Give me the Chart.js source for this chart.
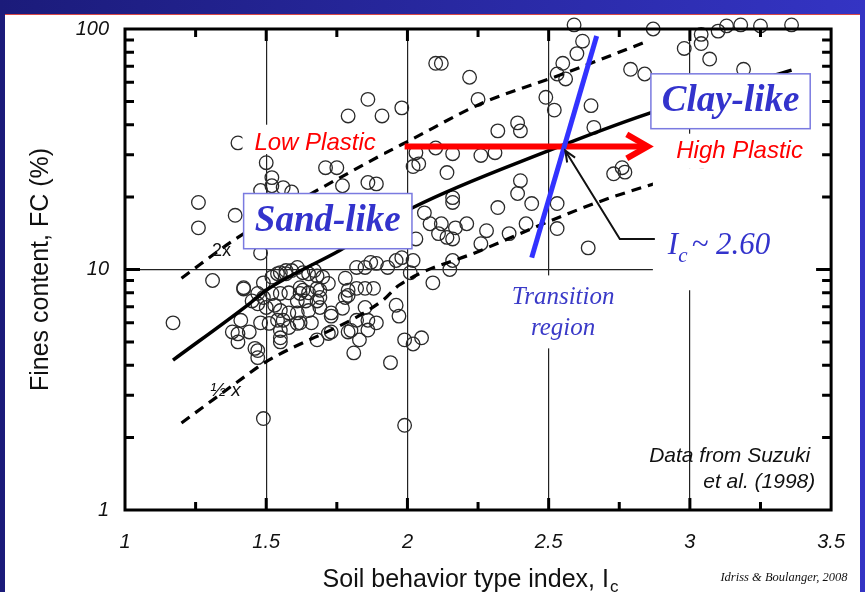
<!DOCTYPE html>
<html lang="en">
<head>
<meta charset="UTF-8">
<title>Fines content vs Ic</title>
<script src="https://cdn.jsdelivr.net/npm/chart.js"></script>
<style>
    html, body { margin: 0; padding: 0; }
    body {
        width: 865px; height: 592px; overflow: hidden; position: relative;
        background: linear-gradient(to right, #1b1b7a, #3434c4);
        font-family: Arial, sans-serif;
    }
    #panel {
        position: absolute; left: 5px; top: 14px; width: 855px; height: 578px;
        background: #fff; border-top: 1px solid #d84848;
    }
    #wrap { position: absolute; left: 0; top: 0; width: 865px; height: 592px; }
</style>
</head>
<body>
<div id="panel"></div>
<div id="wrap"><canvas id="fcChart" width="865" height="592"></canvas></div>
<script>
// Suzuki et al. (1998) data points: soil behaviour type index Ic vs fines content FC (%)
const pointIc = [
    2.59, 2.87, 3.04, 3.10, 3.13, 3.18, 3.25, 3.36, 3.04, 2.98, 3.07, 3.19, 2.62, 2.60, 2.55, 2.53,
    2.56, 2.79, 2.84, 2.49, 2.52, 2.65, 2.66, 2.73, 2.76, 2.77, 2.64,
    2.10, 2.12, 2.22, 2.25, 1.98, 2.32, 2.39, 2.40, 2.03, 2.04, 2.02, 2.10, 2.16, 2.26, 2.31, 2.14,
    2.40, 2.39, 2.44, 2.16, 2.16, 2.32, 2.53, 2.06, 2.08, 2.12, 2.17, 2.21, 2.11, 2.14, 2.16, 2.03,
    2.28, 2.36, 2.42, 2.53, 2.26, 2.16, 2.02, 2.01, 2.15, 2.09, 1.98,
    1.86, 1.91, 1.79, 1.40, 1.50, 1.71, 1.75, 1.52, 1.52, 1.56, 1.77, 1.86, 1.89, 1.48, 1.59, 1.26,
    1.26, 1.39, 1.48, 1.31, 1.42,
    1.17, 1.38, 1.40, 1.40, 1.44, 1.47, 1.47, 1.49, 1.55, 1.55, 1.68, 1.73, 1.73, 1.79, 1.83, 1.81,
    1.86, 1.89, 1.86, 1.82, 1.94, 1.96, 1.97, 1.99, 2.02, 2.05, 1.99,
    1.49, 1.52, 1.54, 1.57, 1.59, 1.61, 1.65, 1.68, 1.70, 1.72, 1.69, 1.65, 1.62, 1.58, 1.55, 1.52,
    1.49, 1.47, 1.42, 1.45, 1.50, 1.53, 1.55, 1.58, 1.61, 1.65, 1.69, 1.68, 1.48, 1.51, 1.55, 1.58,
    1.62, 1.66, 1.72, 1.73, 1.78, 1.79, 1.79, 1.82, 1.85, 1.88, 1.82, 1.85, 1.89, 1.93, 1.85, 1.80,
    1.46, 1.63, 1.67, 1.62, 1.63, 1.68, 1.69, 1.61, 1.64, 1.87, 1.96, 1.78, 1.77, 1.47, 1.54, 1.61,
    1.41, 1.56, 1.55, 1.57
];
const pointFc = [
    104, 100, 95, 98, 103, 104, 103, 104, 87, 83, 75, 68, 89, 79, 72, 65,
    62, 68, 65, 52, 46, 48, 39, 25, 26.5, 25.4, 12.3,
    72, 72, 63, 51, 47, 37.7, 40.7, 37.7, 30.6, 27.5, 26.8, 32, 30.3, 29.8, 30.6, 25.3,
    23.4, 20.7, 18.8, 19.9, 19, 18.1, 18.8, 17.2, 15.5, 15.5, 14.9, 15.5, 14.1, 13.6, 13.4, 13.4,
    14.5, 14.1, 15.5, 14.8, 12.8, 10.9, 10.9, 9.7, 10, 8.8, 11.2,
    51, 43.5, 43.5, 33.6, 27.8, 26.5, 26.5, 24.1, 22.3, 21.9, 22.3, 23, 22.7, 21.3, 21, 19,
    14.9, 16.8, 11.7, 9.0, 8.3,
    6.0, 5.5, 5.4, 5.0, 5.5, 4.6, 4.3, 2.4, 5.2, 5.0, 5.1, 5.5, 6.4, 5.5, 5.1, 4.5,
    5.6, 6.0, 6.15, 6.15, 4.1, 7.1, 6.4, 5.1, 4.9, 5.2, 2.25,
    8.8, 9.3, 9.6, 9.6, 9.9, 10.2, 9.6, 9.4, 9.3, 8.75, 8.2, 8.0, 7.95, 8.0, 7.95, 7.95,
    7.65, 7.95, 8.4, 7.4, 6.95, 7.1, 6.75, 6.6, 6.6, 6.75, 6.95, 7.4, 6.0, 5.97, 5.58, 5.74,
    6.0, 6.0, 5.42, 6.6, 9.2, 8.2, 7.8, 8.35, 8.35, 8.35, 10.2, 10.2, 10.6, 10.2, 6.95, 5.58,
    4.7, 9.7, 9.9, 8.4, 8.2, 8.35, 7.65, 7.4, 7.4, 10.7, 10.9, 7.65, 6.9, 7.2, 6.15, 5.97,
    6.15, 6.15, 9.7, 9.9
];

// Best-fit curve and the 2x / 0.5x bounds
const meanIc = [1.17, 1.44, 1.50, 1.76, 2.02, 2.50, 2.85, 3.36];
const meanFc = [4.2, 7.2, 8.2, 12.0, 18.1, 31.2, 44.4, 67.5];
const upperIc = [1.20, 1.40, 1.87, 2.02, 2.26, 2.55, 2.85];
const upperFc = [9.2, 13.6, 28.3, 35, 48.9, 65, 89];
const lowerIc = [1.20, 1.42, 1.49, 1.91, 1.97, 2.26, 2.57, 2.72, 3.05];
const lowerFc = [2.3, 3.56, 4.07, 7.4, 8.6, 12, 17.1, 19.9, 26.2];

// Ic ~ 2.60 boundary line and the plasticity arrow
const boundIc = [2.44, 2.67];
const boundFc = [11.2, 93.5];
const arrowIc = [1.99, 2.84];
const arrowFc = [32.5, 32.5];

const xTicks = [1, 1.5, 2, 2.5, 3, 3.5];
const yTicks = [1, 10, 100];

const pts = (xs, ys) => xs.map((v, i) => ({ x: v, y: ys[i] }));

const serif = '"Liberation Serif", "Times New Roman", serif';
const sans = 'Arial, "Liberation Sans", sans-serif';

const annot = {
    id: 'annot',
    afterDatasetsDraw(chart) {
        const { ctx, chartArea: a, scales: { x, y } } = chart;
        const P = (ix, fc) => [x.getPixelForValue(ix), y.getPixelForValue(fc)];

        function box(x0, y0, x1, y1, stroke) {
            const [l, t] = P(x0, y0);
            const [r, b] = P(x1, y1);
            ctx.fillStyle = '#fff';
            ctx.fillRect(l, t, r - l, b - t);
            if (stroke) {
                ctx.strokeStyle = stroke;
                ctx.lineWidth = 1.5;
                ctx.strokeRect(l, t, r - l, b - t);
            }
        }
        function text(str, ix, fc, font, color, align) {
            const [px, py] = P(ix, fc);
            ctx.font = font;
            ctx.fillStyle = color;
            ctx.textAlign = align || 'center';
            ctx.textBaseline = 'middle';
            ctx.fillText(str, px, py);
        }

        ctx.save();
        // white label backgrounds
        box(1.416, 40.0, 1.917, 30.2);
        box(2.929, 36.7, 3.5, 26.2);
        box(2.340, 9.45, 2.763, 4.70);
        box(2.869, 26.2, 3.5, 8.2);
        box(1.420, 20.7, 2.016, 12.2, '#7a7ae0');
        box(2.862, 65.1, 3.426, 38.5, '#7a7ae0');

        // red arrow head
        const [tx, ty] = P(2.858, 32.5);
        ctx.strokeStyle = '#ff0000';
        ctx.lineWidth = 6;
        ctx.lineJoin = 'miter';
        ctx.beginPath();
        ctx.moveTo(tx - 23, ty - 12);
        ctx.lineTo(tx - 2, ty);
        ctx.lineTo(tx - 23, ty + 12);
        ctx.stroke();

        // leader line to Ic ~ 2.60
        const l0 = P(2.876, 13.4), l1 = P(2.752, 13.4), l2 = P(2.559, 31.2);
        ctx.strokeStyle = '#111';
        ctx.lineWidth = 2;
        ctx.beginPath();
        ctx.moveTo(l0[0], l0[1]);
        ctx.lineTo(l1[0], l1[1]);
        ctx.lineTo(l2[0], l2[1]);
        ctx.stroke();
        const ang = Math.atan2(l2[1] - l1[1], l2[0] - l1[0]);
        ctx.beginPath();
        ctx.moveTo(l2[0] - 12 * Math.cos(ang - 0.4), l2[1] - 12 * Math.sin(ang - 0.4));
        ctx.lineTo(l2[0], l2[1]);
        ctx.lineTo(l2[0] - 12 * Math.cos(ang + 0.4), l2[1] - 12 * Math.sin(ang + 0.4));
        ctx.stroke();

        // texts
        text('Low Plastic', 1.673, 33.6, 'italic 24px ' + sans, '#ff0000');
        text('High Plastic', 3.176, 30.9, 'italic 24px ' + sans, '#ff0000');
        text('Sand-like', 1.718, 15.9, 'italic bold 37px ' + serif, '#3333cc');
        text('Clay-like', 3.144, 50.0, 'italic bold 37px ' + serif, '#3333cc');
        text('Transition', 2.551, 7.65, 'italic 25px ' + serif, '#3a3ac8');
        text('region', 2.551, 5.69, 'italic 25px ' + serif, '#3a3ac8');
        text('2x', 1.342, 11.9, '18px ' + sans, '#111');
        text('\u00bd x', 1.356, 3.12, 'italic 19px ' + sans, '#111');
        text('Data from Suzuki', 3.426, 1.68, 'italic 21px ' + sans, '#111', 'right');
        text('et al. (1998)', 3.444, 1.31, 'italic 21px ' + sans, '#111', 'right');

        // Ic ~ 2.60 with subscript
        const [ix, iy] = P(2.922, 11.65);
        ctx.fillStyle = '#3333cc';
        ctx.textAlign = 'left';
        ctx.textBaseline = 'alphabetic';
        ctx.font = 'italic 31px ' + serif;
        ctx.fillText('I', ix, iy);
        let w = ctx.measureText('I').width;
        ctx.font = 'italic 21px ' + serif;
        ctx.fillText('c', ix + w, iy + 8);
        w += ctx.measureText('c').width + 4;
        ctx.font = 'italic 31px ' + serif;
        ctx.fillText('~ 2.60', ix + w, iy);

        // frame
        ctx.strokeStyle = '#000';
        ctx.lineWidth = 3;
        ctx.strokeRect(a.left, a.top, a.right - a.left, a.bottom - a.top);

        // inward tick marks
        ctx.lineWidth = 3;
        ctx.beginPath();
        for (let d = 1; d <= 10; d *= 10) {
            for (let k = 2; k <= 9; k++) {
                const py = y.getPixelForValue(k * d);
                ctx.moveTo(a.left, py); ctx.lineTo(a.left + 9, py);
                ctx.moveTo(a.right, py); ctx.lineTo(a.right - 9, py);
            }
        }
        const p10 = y.getPixelForValue(10);
        ctx.moveTo(a.left, p10); ctx.lineTo(a.left + 15, p10);
        ctx.moveTo(a.right, p10); ctx.lineTo(a.right - 15, p10);
        [1.25, 1.5, 1.75, 2, 2.25, 2.5, 2.75, 3, 3.25].forEach(v => {
            const px = x.getPixelForValue(v);
            const len = (v * 2) % 1 === 0 ? 12 : 8;
            ctx.moveTo(px, a.top); ctx.lineTo(px, a.top + len);
            ctx.moveTo(px, a.bottom); ctx.lineTo(px, a.bottom - len);
        });
        ctx.stroke();
        ctx.restore();
    },
    afterDraw(chart) {
        const { ctx } = chart;
        ctx.save();
        // x axis title with subscript
        ctx.fillStyle = '#111';
        ctx.textBaseline = 'alphabetic';
        ctx.textAlign = 'left';
        ctx.font = '25px ' + sans;
        const main = 'Soil behavior type index, I';
        const mw = ctx.measureText(main).width;
        ctx.font = '17px ' + sans;
        const sw = ctx.measureText('c').width;
        const x0 = 470 - (mw + sw) / 2;
        ctx.font = '25px ' + sans;
        ctx.fillText(main, x0, 587);
        ctx.font = '17px ' + sans;
        ctx.fillText('c', x0 + mw + 1, 592);
        // source note
        ctx.font = 'italic 12.5px ' + serif;
        ctx.textAlign = 'center';
        ctx.fillText('Idriss & Boulanger, 2008', 784, 581);
        ctx.restore();
    }
};

new Chart(document.getElementById('fcChart'), {
    type: 'scatter',
    data: {
        datasets: [
            {
                data: pts(boundIc, boundFc), showLine: true, order: 0,
                borderColor: '#3232ff', borderWidth: 5, pointRadius: 0
            },
            {
                data: pts(arrowIc, arrowFc), showLine: true, order: 1,
                borderColor: '#ff0000', borderWidth: 6, pointRadius: 0
            },
            {
                data: pts(meanIc, meanFc), showLine: true, order: 2,
                borderColor: '#000', borderWidth: 3.5, pointRadius: 0,
                cubicInterpolationMode: 'monotone'
            },
            {
                data: pts(upperIc, upperFc), showLine: true, order: 2,
                borderColor: '#000', borderWidth: 3.2, borderDash: [10, 7], pointRadius: 0,
                cubicInterpolationMode: 'monotone'
            },
            {
                data: pts(lowerIc, lowerFc), showLine: true, order: 2,
                borderColor: '#000', borderWidth: 3.2, borderDash: [10, 7], pointRadius: 0,
                cubicInterpolationMode: 'monotone'
            },
            {
                data: pts(pointIc, pointFc), order: 5, clip: false,
                pointStyle: 'circle', pointRadius: 6.8, pointBorderWidth: 1.3,
                pointBorderColor: '#2a2a2a', pointBackgroundColor: 'rgba(0,0,0,0)'
            }
        ]
    },
    options: {
        responsive: false,
        animation: false,
        events: [],
        layout: { padding: { left: 0, top: 29, right: 31, bottom: 0 } },
        plugins: { legend: { display: false }, tooltip: { enabled: false } },
        scales: {
            x: {
                type: 'linear', min: 1, max: 3.5,
                afterFit: s => { s.height = 82; },
                afterBuildTicks: s => { s.ticks = xTicks.map(v => ({ value: v })); },
                border: { display: false },
                grid: {
                    drawTicks: false, lineWidth: 1.2,
                    color: c => (c.tick && c.tick.value > 1 && c.tick.value < 3.5) ? '#222' : 'rgba(0,0,0,0)'
                },
                ticks: {
                    padding: 20, color: '#111',
                    font: { family: sans, size: 20, style: 'italic' },
                    callback: v => String(v)
                }
            },
            y: {
                type: 'logarithmic', min: 1, max: 100,
                afterFit: s => { s.width = 125; },
                afterBuildTicks: s => { s.ticks = yTicks.map(v => ({ value: v })); },
                border: { display: false },
                grid: {
                    drawTicks: false, lineWidth: 1.2,
                    color: c => (c.tick && c.tick.value === 10) ? '#222' : 'rgba(0,0,0,0)'
                },
                ticks: {
                    padding: 16, color: '#111', autoSkip: false,
                    font: { family: sans, size: 20, style: 'italic' },
                    callback: v => String(v)
                },
                title: {
                    display: true, text: 'Fines content, FC (%)', color: '#111',
                    font: { family: sans, size: 25 }, padding: { top: 26, bottom: 0 }
                }
            }
        }
    },
    plugins: [annot]
});
</script>
</body>
</html>
